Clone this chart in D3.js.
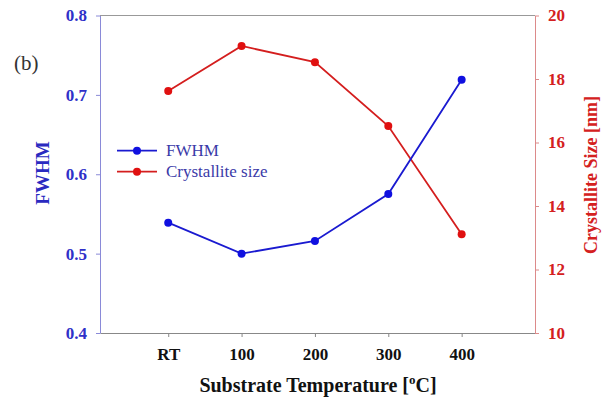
<!DOCTYPE html>
<html>
<head>
<meta charset="utf-8">
<script src="https://cdn.jsdelivr.net/npm/d3@7"></script>
<style>
  body { margin: 0; background: #fff; }
  svg text { font-family: "Liberation Serif", "Times New Roman", Times, serif !important; }
</style>
</head>
<body>
<svg></svg>
<script>
var categories = ["RT", "100", "200", "300", "400"];
var fwhm = [0.539, 0.500, 0.516, 0.575, 0.719];
var crystSize = [17.62, 19.04, 18.53, 16.52, 13.11];
var leftTicks = [0.4, 0.5, 0.6, 0.7, 0.8];
var rightTicks = [10, 12, 14, 16, 18, 20];

var svgWidth = 609, svgHeight = 412;
var margin = { top: 15.5, right: 74, bottom: 79, left: 100 };
var width = svgWidth - margin.left - margin.right;
var height = svgHeight - margin.top - margin.bottom;

var blue = "#1a1ad0", red = "#d41e1e";

var svg = d3.select("svg")
    .attr("width", svgWidth)
    .attr("height", svgHeight);

var g = svg.append("g")
    .attr("transform", "translate(" + margin.left + "," + margin.top + ")");

// categories sit at 1..5, the frame runs a bit past them
var x = d3.scaleLinear().domain([0.07, 6.0]).range([0, width]);
var yL = d3.scaleLinear().domain([0.4, 0.8]).range([height, 0]);
var yR = d3.scaleLinear().domain([10, 20]).range([height, 0]);

// top frame line
g.append("line")
    .attr("x1", 0).attr("x2", width)
    .attr("y1", 0).attr("y2", 0)
    .attr("stroke", "#999").attr("stroke-width", 1);

// bottom axis
var xAxis = g.append("g")
    .attr("transform", "translate(0," + height + ")")
    .call(d3.axisBottom(x)
        .tickValues(d3.range(1, categories.length + 1))
        .tickFormat(function(d) { return categories[d - 1]; })
        .tickSize(4).tickSizeOuter(0).tickPadding(11));
xAxis.select(".domain").attr("stroke", "#888");
xAxis.selectAll(".tick line").attr("stroke", "#888");
xAxis.selectAll(".tick text")
    .attr("fill", "#111")
    .attr("font-size", 17)
    .attr("font-weight", "bold");

// left axis
var lAxis = g.append("g")
    .call(d3.axisLeft(yL)
        .tickValues(leftTicks)
        .tickFormat(d3.format(".1f"))
        .tickSize(4).tickSizeOuter(0).tickPadding(9));
lAxis.select(".domain").attr("stroke", "#8a8ad8");
lAxis.selectAll(".tick line").attr("stroke", "#8a8ad8");
lAxis.selectAll(".tick text")
    .attr("fill", "#3030c8")
    .attr("font-size", 17)
    .attr("font-weight", "bold");

// right axis
var rAxis = g.append("g")
    .attr("transform", "translate(" + width + ",0)")
    .call(d3.axisRight(yR)
        .tickValues(rightTicks)
        .tickSize(4).tickSizeOuter(0).tickPadding(9));
rAxis.select(".domain").attr("stroke", "#dc8a8a");
rAxis.selectAll(".tick line").attr("stroke", "#dc8a8a");
rAxis.selectAll(".tick text")
    .attr("fill", "#d42020")
    .attr("font-size", 17)
    .attr("font-weight", "bold");

// series
var lineL = d3.line()
    .x(function(d, i) { return x(i + 1); })
    .y(function(d) { return yL(d); });
var lineR = d3.line()
    .x(function(d, i) { return x(i + 1); })
    .y(function(d) { return yR(d); });

g.append("path")
    .datum(crystSize)
    .attr("fill", "none")
    .attr("stroke", red)
    .attr("stroke-width", 1.8)
    .attr("d", lineR);
g.selectAll(".dotR")
    .data(crystSize)
    .enter().append("circle")
    .attr("cx", function(d, i) { return x(i + 1); })
    .attr("cy", function(d) { return yR(d); })
    .attr("r", 4)
    .attr("fill", "#e01010");

g.append("path")
    .datum(fwhm)
    .attr("fill", "none")
    .attr("stroke", blue)
    .attr("stroke-width", 1.8)
    .attr("d", lineL);
g.selectAll(".dotL")
    .data(fwhm)
    .enter().append("circle")
    .attr("cx", function(d, i) { return x(i + 1); })
    .attr("cy", function(d) { return yL(d); })
    .attr("r", 4)
    .attr("fill", "#1010e0");

// legend
var legend = svg.append("g");
var items = [
    { name: "FWHM", color: blue, dot: "#1010e0", y: 150.7 },
    { name: "Crystallite size", color: red, dot: "#e01010", y: 171.7 }
];
items.forEach(function(it) {
    legend.append("line")
        .attr("x1", 117).attr("x2", 157)
        .attr("y1", it.y).attr("y2", it.y)
        .attr("stroke", it.color).attr("stroke-width", 1.8);
    legend.append("circle")
        .attr("cx", 137).attr("cy", it.y).attr("r", 4)
        .attr("fill", it.dot);
    legend.append("text")
        .attr("x", 166).attr("y", it.y + 5.6)
        .attr("font-size", 17)
        .attr("fill", "#3a3aa8")
        .text(it.name);
});

// panel label
svg.append("text")
    .attr("x", 14).attr("y", 70)
    .attr("font-size", 21)
    .attr("fill", "#333")
    .text("(b)");

// axis titles
var xt = svg.append("text")
    .attr("x", 318).attr("y", 392)
    .attr("text-anchor", "middle")
    .attr("font-size", 20)
    .attr("font-weight", "bold")
    .attr("fill", "#111");
xt.append("tspan").text("Substrate Temperature [");
xt.append("tspan").attr("font-size", 13).attr("dy", -8).text("o");
xt.append("tspan").attr("dy", 8).text("C]");

svg.append("text")
    .attr("transform", "translate(49,173) rotate(-90)")
    .attr("text-anchor", "middle")
    .attr("font-size", 19)
    .attr("font-weight", "bold")
    .attr("fill", "#2a2ac0")
    .text("FWHM");

svg.append("text")
    .attr("transform", "translate(597,175) rotate(-90)")
    .attr("text-anchor", "middle")
    .attr("font-size", 18)
    .attr("font-weight", "bold")
    .attr("fill", "#d42020")
    .text("Crystallite Size [nm]");
</script>
</body>
</html>
